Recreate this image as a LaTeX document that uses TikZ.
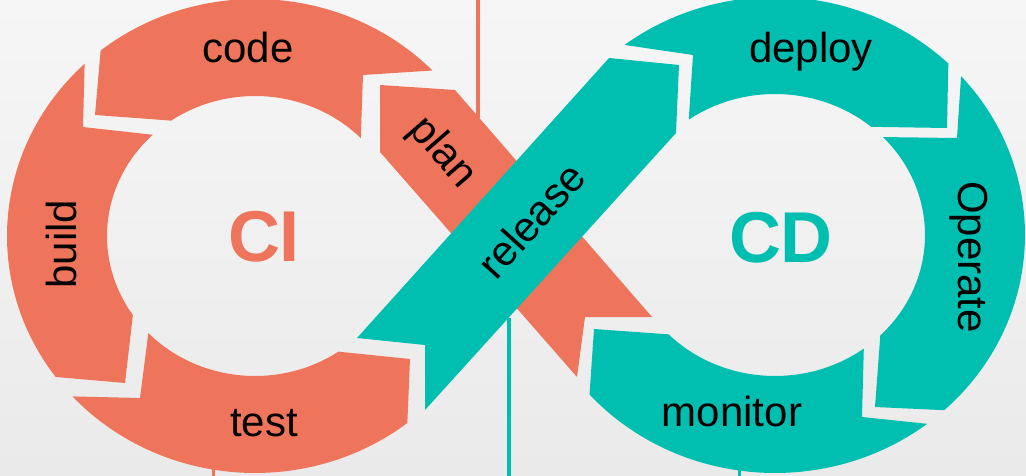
\documentclass[tikz,border=0pt]{standalone}
\usepackage{fontspec}
\setmainfont{Liberation Sans}
\definecolor{coral}{HTML}{EF745C}
\definecolor{cdteal}{HTML}{00BFB0}
\definecolor{bgtop}{HTML}{F6F6F6}
\definecolor{bgbot}{HTML}{EAEAEA}
\tikzset{
  ciseg/.style={fill=coral},
  cdseg/.style={fill=cdteal},
  lbl/.style={font=\fontsize{42}{44}\selectfont, inner sep=0pt},
  big/.style={font=\fontsize{72}{74}\selectfont\bfseries, inner sep=0pt},
}

\begin{document}
\begin{tikzpicture}[x=1pt,y=-1pt]
        \fill[top color=bgtop, bottom color=bgbot] (0,0) rectangle (1026,476);
        \useasboundingbox (0,0) rectangle (1026,476);
        \coordinate (lc) at (255,236);
        \coordinate (rc) at (775,235);
        % lines behind the loop
        \draw[coral, line width=4] (478,0) -- (478,118);
        \draw[cdteal, line width=4] (509,318) -- (509,476);
        \draw[coral, line width=3] (213,467) -- (213,476);
        \draw[cdteal, line width=3] (739,468) -- (739,476);
        % CI loop
        \fill[ciseg] ([shift={(lc)}]231.5:248 and 237) arc[start angle=231.5, end angle=315.7, x radius=248, y radius=237] -- (363,75) -- ([shift={(lc)}]315.6:148 and 140) arc[start angle=315.6, end angle=235.5, x radius=148, y radius=140] -- (95,115) -- cycle;
        \fill[ciseg] ([shift={(lc)}]226.6:248 and 237) -- (83,127) -- ([shift={(lc)}]226.3:148 and 140) arc[start angle=226.3, end angle=145.6, x radius=148, y radius=140] -- (125,383) -- ([shift={(lc)}]143.5:248 and 237) arc[start angle=143.5, end angle=226.6, x radius=248, y radius=237] -- cycle;
        \fill[ciseg] ([shift={(lc)}]137.4:248 and 237) -- (140,398) -- ([shift={(lc)}]136.1:148 and 140) arc[start angle=136.1, end angle=55.7, x radius=148, y radius=140] -- (410,359) -- ([shift={(lc)}]52.1:248 and 237) arc[start angle=52.1, end angle=137.4, x radius=248, y radius=237] -- cycle;
        \fill[ciseg] (380,85) -- (455,90) -- (652,317) -- (585,317) -- (577,377) -- (380,152) -- cycle;
        % CD loop
        \fill[cdseg] (357,338) -- (609,58) -- (679,65) -- (676,133) -- (425,410) -- (425,345) -- cycle;
        \fill[cdseg] ([shift={(rc)}]233:250 and 238) arc[start angle=233, end angle=313.9, x radius=250, y radius=238] -- (947,128) -- ([shift={(rc)}]309.9:150 and 141) arc[start angle=309.9, end angle=234.9, x radius=150, y radius=141] -- (693,55) -- cycle;
        \fill[cdseg] ([shift={(rc)}]318.1:250 and 238) arc[start angle=318.1, end angle=407.4, x radius=250, y radius=238] -- (875,407) -- ([shift={(rc)}]45.4:150 and 141) arc[start angle=45.4, end angle=-44, x radius=150, y radius=141] -- (957,138) -- cycle;
        \fill[cdseg] ([shift={(rc)}]52.5:250 and 238) arc[start angle=52.5, end angle=137.9, x radius=250, y radius=238] -- (594,329) -- ([shift={(rc)}]135.2:150 and 141) arc[start angle=135.2, end angle=53.7, x radius=150, y radius=141] -- (862,417) -- cycle;
        % labels
        \node[lbl, anchor=base] (code) at (248,63) {code};
        \node[lbl, anchor=base, rotate=90] (build) at (76,244) {build};
        \node[lbl, anchor=base] (test) at (264,436) {test};
        \node[lbl, rotate=-49] (plan) at (442,153) {plan};
        \node[lbl, rotate=48] (release) at (531,220) {release};
        \node[lbl, anchor=base] (deploy) at (811,63) {deploy};
        \node[lbl, anchor=base, rotate=-90] (operate) at (958,257) {Operate};
        \node[lbl, anchor=base] (monitor) at (732,426) {monitor};
        \node[big, text=coral, anchor=base] (ci) at (264,261) {CI};
        \node[big, text=cdteal, anchor=base] (cd) at (781,262) {CD};
      \end{tikzpicture}
\end{document}
